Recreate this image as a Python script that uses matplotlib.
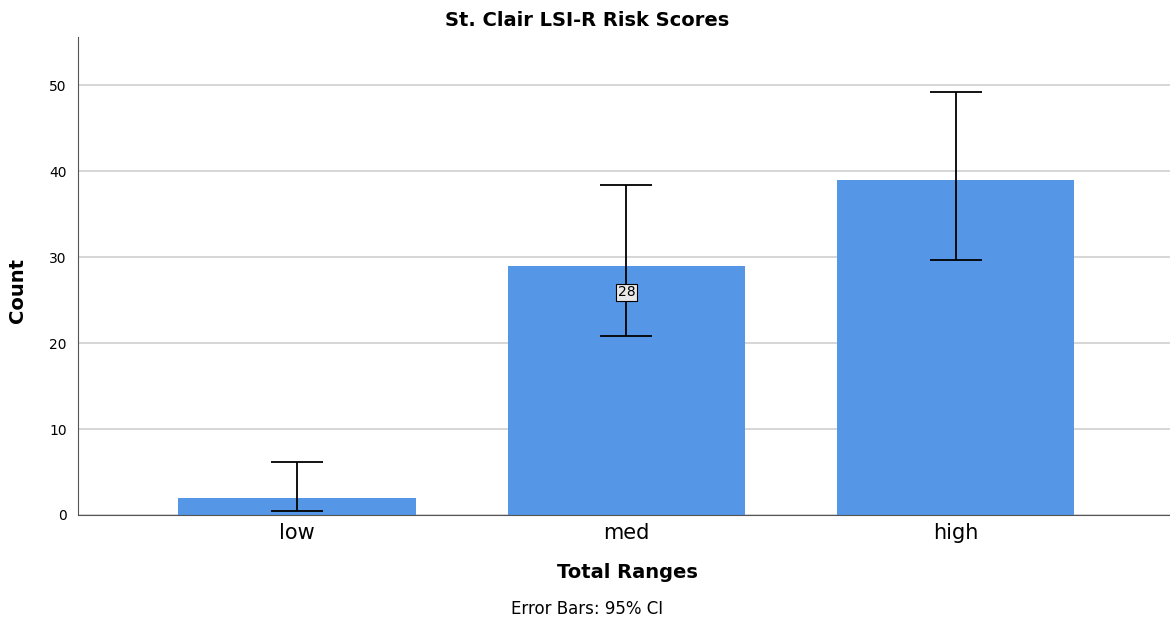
import numpy as np
import matplotlib
matplotlib.use('Agg')
import matplotlib.pyplot as plt

categories = ["low", "med", "high"]
counts = [2, 29, 39]
ci_low = [0.45, 20.8, 29.7]
ci_high = [6.2, 38.4, 49.2]
label_text = "28"
label_y = 25.9

fig = plt.figure(figsize=(11.7, 6.21), dpi=100)
ax = fig.add_axes([78/1170, 1 - 515/621, 1 - 78/1170, (515 - 37)/621])

x = np.arange(len(categories))
ax.bar(x, counts, width=0.72, color="#5596e6", zorder=2)
err = [np.array(counts) - np.array(ci_low), np.array(ci_high) - np.array(counts)]
ax.errorbar(x, counts, yerr=err, fmt="none", ecolor="black", elinewidth=1.3,
            capsize=19, capthick=1.3, zorder=3)
ax.text(x[1], label_y, label_text, ha="center", va="center", fontsize=10,
        bbox=dict(boxstyle="square,pad=0.1", fc="#e8e8e8", ec="black", lw=0.8), zorder=4)

ax.set_xlim(-0.665, 2.65)
ax.set_ylim(0, 55.6)
ax.set_yticks([0, 10, 20, 30, 40, 50])
ax.set_xticks(x)
ax.set_xticklabels(categories, fontsize=15)
ax.tick_params(axis="y", labelsize=10, length=0, pad=8)
ax.tick_params(axis="x", length=0, pad=6)
ax.yaxis.grid(True, color="#d0d0d0", lw=1.2, zorder=0)
ax.set_axisbelow(True)
for s in ["top", "right"]:
    ax.spines[s].set_visible(False)
ax.spines["left"].set_color("#555555")
ax.spines["bottom"].set_color("#555555")

fig.text(18/1170, 1 - 290/621, "Count", rotation=90, ha="center", va="center",
         fontsize=14, fontweight="bold")
fig.text(627/1170, 1 - 572/621, "Total Ranges", ha="center", va="center",
         fontsize=14, fontweight="bold")
fig.text(587/1170, 1 - 20/621, "St. Clair LSI-R Risk Scores", ha="center", va="center",
         fontsize=14, fontweight="bold")
fig.text(587/1170, 1 - 609/621, "Error Bars: 95% CI", ha="center", va="center", fontsize=12)

fig.savefig("out.png", dpi=100)
